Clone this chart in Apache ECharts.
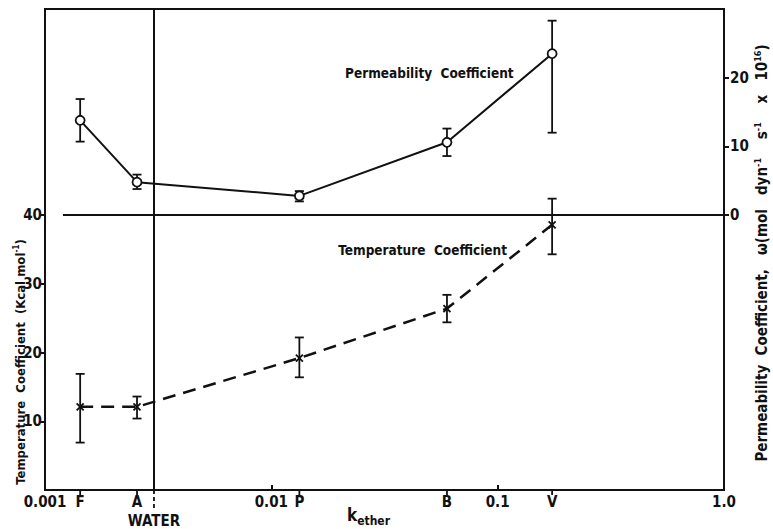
<!DOCTYPE html>
<html><head><meta charset="utf-8">
<script src="https://cdn.jsdelivr.net/npm/echarts@6/dist/echarts.min.js"></script>
<style>html,body{margin:0;padding:0;background:#fff}#c{width:773px;height:529px}</style>
</head><body><div id="c"></div>
<script>
// ---- data ----
const categories = ['F', 'A', 'P', 'B', 'V'];
const kEther = [0.00143, 0.00255, 0.0133, 0.0597, 0.174];
const permValue = [13.8, 4.8, 2.8, 10.6, 23.5];
const permLow = [10.7, 3.8, 2.0, 8.6, 12.0];
const permHigh = [16.9, 5.9, 3.5, 12.6, 28.3];
const tempValue = [12.1, 12.1, 19.2, 26.4, 38.6];
const tempLow = [6.9, 10.4, 16.4, 24.4, 34.3];
const tempHigh = [16.9, 13.6, 22.2, 28.4, 42.4];
const waterK = 0.00303;
const xTicks = [0.001, 0.01, 0.1, 1];
const xTickLabels = ['0.001', '0.01', '0.1', '1.0'];
const tempTicks = [10, 20, 30, 40];
const permTicks = [0, 10, 20];
const splitLevel = 40;       // temperature value where the panels meet (= permeability 0)
const splitStartK = 0.0012;  // horizontal divider starts slightly right of the axis

// ---- style ----
const FONT = '"DejaVu Sans Condensed","Liberation Sans Narrow","DejaVu Sans",sans-serif';
const INK = '#111';

const chart = echarts.init(document.getElementById('c'), null, { renderer: 'svg' });

function errorBars(withCross) {
  return function (params, api) {
    const x = api.value(0);
    const lo = api.coord([x, api.value(1)]);
    const hi = api.coord([x, api.value(2)]);
    const c = api.coord([x, api.value(3)]);
    const w = 4.5;
    const st = { stroke: INK, lineWidth: 1.8 };
    const ch = [
      { type: 'line', shape: { x1: lo[0], y1: lo[1], x2: hi[0], y2: hi[1] }, style: st },
      { type: 'line', shape: { x1: lo[0] - w, y1: lo[1], x2: lo[0] + w, y2: lo[1] }, style: st },
      { type: 'line', shape: { x1: hi[0] - w, y1: hi[1], x2: hi[0] + w, y2: hi[1] }, style: st }
    ];
    if (withCross) {
      const s = 3.5;
      ch.push({ type: 'line', shape: { x1: c[0] - s, y1: c[1] - s, x2: c[0] + s, y2: c[1] + s }, style: st });
      ch.push({ type: 'line', shape: { x1: c[0] - s, y1: c[1] + s, x2: c[0] + s, y2: c[1] - s }, style: st });
    }
    return { type: 'group', children: ch };
  };
}

const option = {
  animation: false,
  backgroundColor: '#fff',
  grid: { left: 45, right: 49, top: 9, bottom: 39, show: true, borderColor: INK, borderWidth: 2, backgroundColor: 'transparent', outerBoundsMode: 'none' },
  xAxis: {
    type: 'log', logBase: 10, min: xTicks[0], max: xTicks[xTicks.length - 1],
    axisLine: { lineStyle: { color: INK, width: 2 } },
    axisTick: { inside: true, length: 5, lineStyle: { color: INK, width: 2 } },
    minorTick: { show: false }, splitLine: { show: false },
    axisLabel: {
      color: INK, fontFamily: FONT, fontSize: 15, fontWeight: 'bold', margin: 4,
      formatter: function (v) {
        const i = xTicks.findIndex(t => Math.abs(Math.log10(t) - Math.log10(v)) < 0.01);
        return i >= 0 ? xTickLabels[i] : '';
      }
    }
  },
  yAxis: [
    {
      type: 'value', min: 0, max: 70, interval: 10, position: 'left',
      axisLine: { show: true, lineStyle: { color: INK, width: 2 } },
      axisTick: { show: true, length: 5, customValues: tempTicks, lineStyle: { color: INK, width: 2 } },
      axisLabel: { color: INK, fontFamily: FONT, fontSize: 15, fontWeight: 'bold', margin: 3, customValues: tempTicks },
      splitLine: { show: false }
    },
    {
      type: 'value', min: -40, max: 30, interval: 10, position: 'right',
      axisLine: { show: true, lineStyle: { color: INK, width: 2 } },
      axisTick: { show: true, length: 5, customValues: permTicks, lineStyle: { color: INK, width: 2 } },
      axisLabel: { color: INK, fontFamily: FONT, fontSize: 15, fontWeight: 'bold', margin: 6, customValues: permTicks },
      splitLine: { show: false }
    }
  ],
  series: [
    {
      type: 'line', yAxisIndex: 0, z: 3,
      data: kEther.map((k, i) => [k, tempValue[i]]),
      symbol: 'none', lineStyle: { color: INK, width: 2.5, type: [13, 8] },
      markLine: {
        silent: true, symbol: 'none', label: { show: false },
        lineStyle: { color: INK, width: 2, type: 'solid' },
        data: [
          [{ coord: [splitStartK, splitLevel] }, { coord: [xTicks[xTicks.length - 1], splitLevel] }],
          [{ coord: [waterK, 0] }, { coord: [waterK, 70] }]
        ]
      }
    },
    {
      type: 'custom', yAxisIndex: 0, z: 4,
      data: kEther.map((k, i) => [k, tempLow[i], tempHigh[i], tempValue[i]]),
      renderItem: errorBars(true)
    },
    {
      type: 'custom', yAxisIndex: 1, z: 4,
      data: kEther.map((k, i) => [k, permLow[i], permHigh[i], permValue[i]]),
      renderItem: errorBars(false)
    },
    {
      type: 'line', yAxisIndex: 1, z: 5,
      data: kEther.map((k, i) => [k, permValue[i]]),
      symbol: 'circle', symbolSize: 9, showSymbol: true,
      itemStyle: { color: '#fff', borderColor: INK, borderWidth: 1.8 },
      lineStyle: { color: INK, width: 2 }
    },
    {
      // compound letters under the k_ether axis
      type: 'custom', yAxisIndex: 0, z: 6, clip: false,
      data: kEther.map(k => [k, 0]),
      renderItem: function (params, api) {
        const p = api.coord([api.value(0), 0]);
        return {
          type: 'group', children: [
            { type: 'line', shape: { x1: p[0], y1: p[1] + 1, x2: p[0], y2: p[1] + 5 }, style: { stroke: INK, lineWidth: 1.8 } },
            { type: 'text', x: p[0], y: p[1] + 12, style: { text: categories[params.dataIndex], fill: INK, font: 'bold 15px ' + FONT, align: 'center', verticalAlign: 'middle' } }
          ]
        };
      }
    },
    {
      // WATER marker below the axis
      type: 'custom', yAxisIndex: 0, z: 6, clip: false,
      data: [[waterK, 0]],
      renderItem: function (params, api) {
        const p = api.coord([api.value(0), 0]);
        return {
          type: 'group', children: [
            { type: 'line', shape: { x1: p[0], y1: p[1], x2: p[0], y2: p[1] + 20 }, style: { stroke: INK, lineWidth: 1.8, lineDash: [4, 3] } },
            { type: 'text', x: p[0], y: p[1] + 31, style: { text: 'WATER', fill: INK, font: 'bold 15px ' + FONT, align: 'center', verticalAlign: 'middle' } }
          ]
        };
      }
    }
  ],
  graphic: [
    {
      type: 'text', x: 20, y: 362, rotation: Math.PI / 2,
      style: {
        text: '{n|Temperature  Coefficient  (Kcal mol}{s|-1}{n|)}',
        rich: { n: { font: 'bold 13px ' + FONT, fill: INK }, s: { font: 'bold 8px ' + FONT, fill: INK, verticalAlign: 'top', lineHeight: 16 } },
        align: 'center', verticalAlign: 'middle'
      }
    },
    {
      type: 'text', x: 762, y: 253, rotation: Math.PI / 2,
      style: {
        text: '{n|Permeability  Coefficient,   ω(mol   dyn}{s|-1}{n|    s}{s|-1}{n|    x   10}{s|16}{n|)}',
        rich: { n: { font: 'bold 15px ' + FONT, fill: INK }, s: { font: 'bold 9px ' + FONT, fill: INK, verticalAlign: 'top', lineHeight: 18 } },
        align: 'center', verticalAlign: 'middle'
      }
    },
    {
      type: 'text', x: 345, y: 73,
      style: { text: 'Permeability  Coefficient', font: 'bold 13.5px ' + FONT, fill: INK, align: 'left', verticalAlign: 'middle' }
    },
    {
      type: 'text', x: 507, y: 250,
      style: { text: 'Temperature  Coefficient', font: 'bold 13.5px ' + FONT, fill: INK, align: 'right', verticalAlign: 'middle' }
    },
    {
      type: 'text', x: 347, y: 515,
      style: {
        text: '{k|k}{e|ether}',
        rich: { k: { font: 'bold 17px ' + FONT, fill: INK }, e: { font: 'bold 12px ' + FONT, fill: INK, verticalAlign: 'bottom', lineHeight: 24 } },
        align: 'left', verticalAlign: 'middle'
      }
    }
  ]
};
chart.setOption(option);
</script>
</body></html>
